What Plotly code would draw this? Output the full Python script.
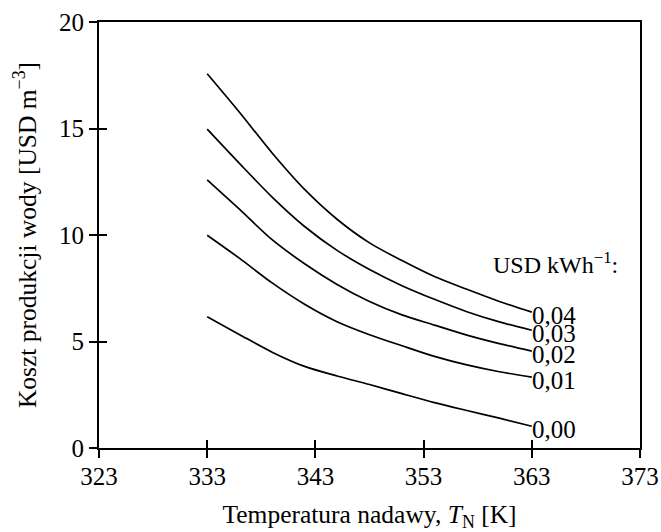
import plotly.graph_objects as go

temps = [333, 336, 339, 342, 345, 348, 351, 354, 357, 360, 363]
prices = ["0,04", "0,03", "0,02", "0,01", "0,00"]
cost_004 = [17.57, 15.75, 13.85, 12.14, 10.74, 9.63, 8.8, 8.05, 7.45, 6.88, 6.38]
cost_003 = [14.97, 13.35, 11.78, 10.4, 9.28, 8.38, 7.62, 6.98, 6.4, 5.92, 5.53]
cost_002 = [12.59, 11.2, 9.78, 8.65, 7.68, 6.88, 6.25, 5.77, 5.3, 4.9, 4.55]
cost_001 = [9.99, 8.9, 7.75, 6.75, 5.93, 5.32, 4.8, 4.3, 3.9, 3.58, 3.33]
cost_000 = [6.16, 5.32, 4.5, 3.83, 3.38, 2.98, 2.55, 2.13, 1.76, 1.4, 1.02]
series = [cost_004, cost_003, cost_002, cost_001, cost_000]

x_ticks = [323, 333, 343, 353, 363, 373]
y_ticks = [0, 5, 10, 15, 20]

FONT = "Liberation Serif"
TICK_FS = 25
LABEL_FS = 25
TITLE_FS = 25.5

fig = go.Figure()
for name, ys in zip(prices, series):
    fig.add_trace(go.Scatter(x=temps, y=ys, mode="lines", name=name,
                             line=dict(color="black", width=1.7, shape="spline", smoothing=0.8),
                             showlegend=False, hoverinfo="skip"))
    fig.add_annotation(x=temps[-1], y=ys[-1], text=name, showarrow=False,
                       xanchor="left", yanchor="middle", xshift=-2, yshift=-3,
                       font=dict(family=FONT, size=LABEL_FS, color="black"))

fig.add_annotation(x=365.2, y=8.67, text="USD kWh<sup>−1</sup>:", showarrow=False,
                   xanchor="center", yanchor="middle",
                   font=dict(family=FONT, size=24, color="black"))

axis_common = dict(showgrid=False, zeroline=False, linecolor="black", linewidth=2,
                   tickcolor="black", tickwidth=2, ticklen=8, automargin=False)

fig.update_layout(
    width=661, height=532,
    margin=dict(l=99, r=21, t=22, b=84),
    paper_bgcolor="white", plot_bgcolor="white",
    font=dict(family=FONT, size=TITLE_FS, color="black"),
    xaxis=dict(range=[323, 373], tickvals=x_ticks, ticks="outside", showline=True, mirror=True,
               ticklabelstandoff=-3,
               title=dict(text="Temperatura nadawy, <i>T</i><sub>N</sub> [K]", standoff=19,
                          font=dict(family=FONT, size=TITLE_FS)),
               tickfont=dict(family=FONT, size=TICK_FS), **axis_common),
    yaxis=dict(range=[0, 20], tickvals=y_ticks, ticks="outside", showline=True, mirror=True,
               title=dict(text="Koszt produkcji wody [USD m<sup>−3</sup>]", standoff=15,
                          font=dict(family=FONT, size=TITLE_FS)),
               tickfont=dict(family=FONT, size=TICK_FS), **axis_common),
    xaxis2=dict(range=[323, 373], tickvals=x_ticks, ticks="inside", overlaying="x", side="bottom",
                showticklabels=False, showline=False, showgrid=False, zeroline=False,
                tickcolor="black", tickwidth=2, ticklen=8, automargin=False),
    yaxis2=dict(range=[0, 20], tickvals=y_ticks, ticks="inside", overlaying="y", side="left",
                showticklabels=False, showline=False, showgrid=False, zeroline=False,
                tickcolor="black", tickwidth=2, ticklen=8, automargin=False),
)
# invisible trace to activate the overlay axes that carry the inner half of the ticks
fig.add_trace(go.Scatter(x=[temps[0]], y=[cost_000[0]], xaxis="x2", yaxis="y2", mode="markers",
                         marker=dict(opacity=0), showlegend=False, hoverinfo="skip"))

fig.write_html("out.html", config={"displayModeBar": False},
               post_script="document.body.style.margin='0';")
